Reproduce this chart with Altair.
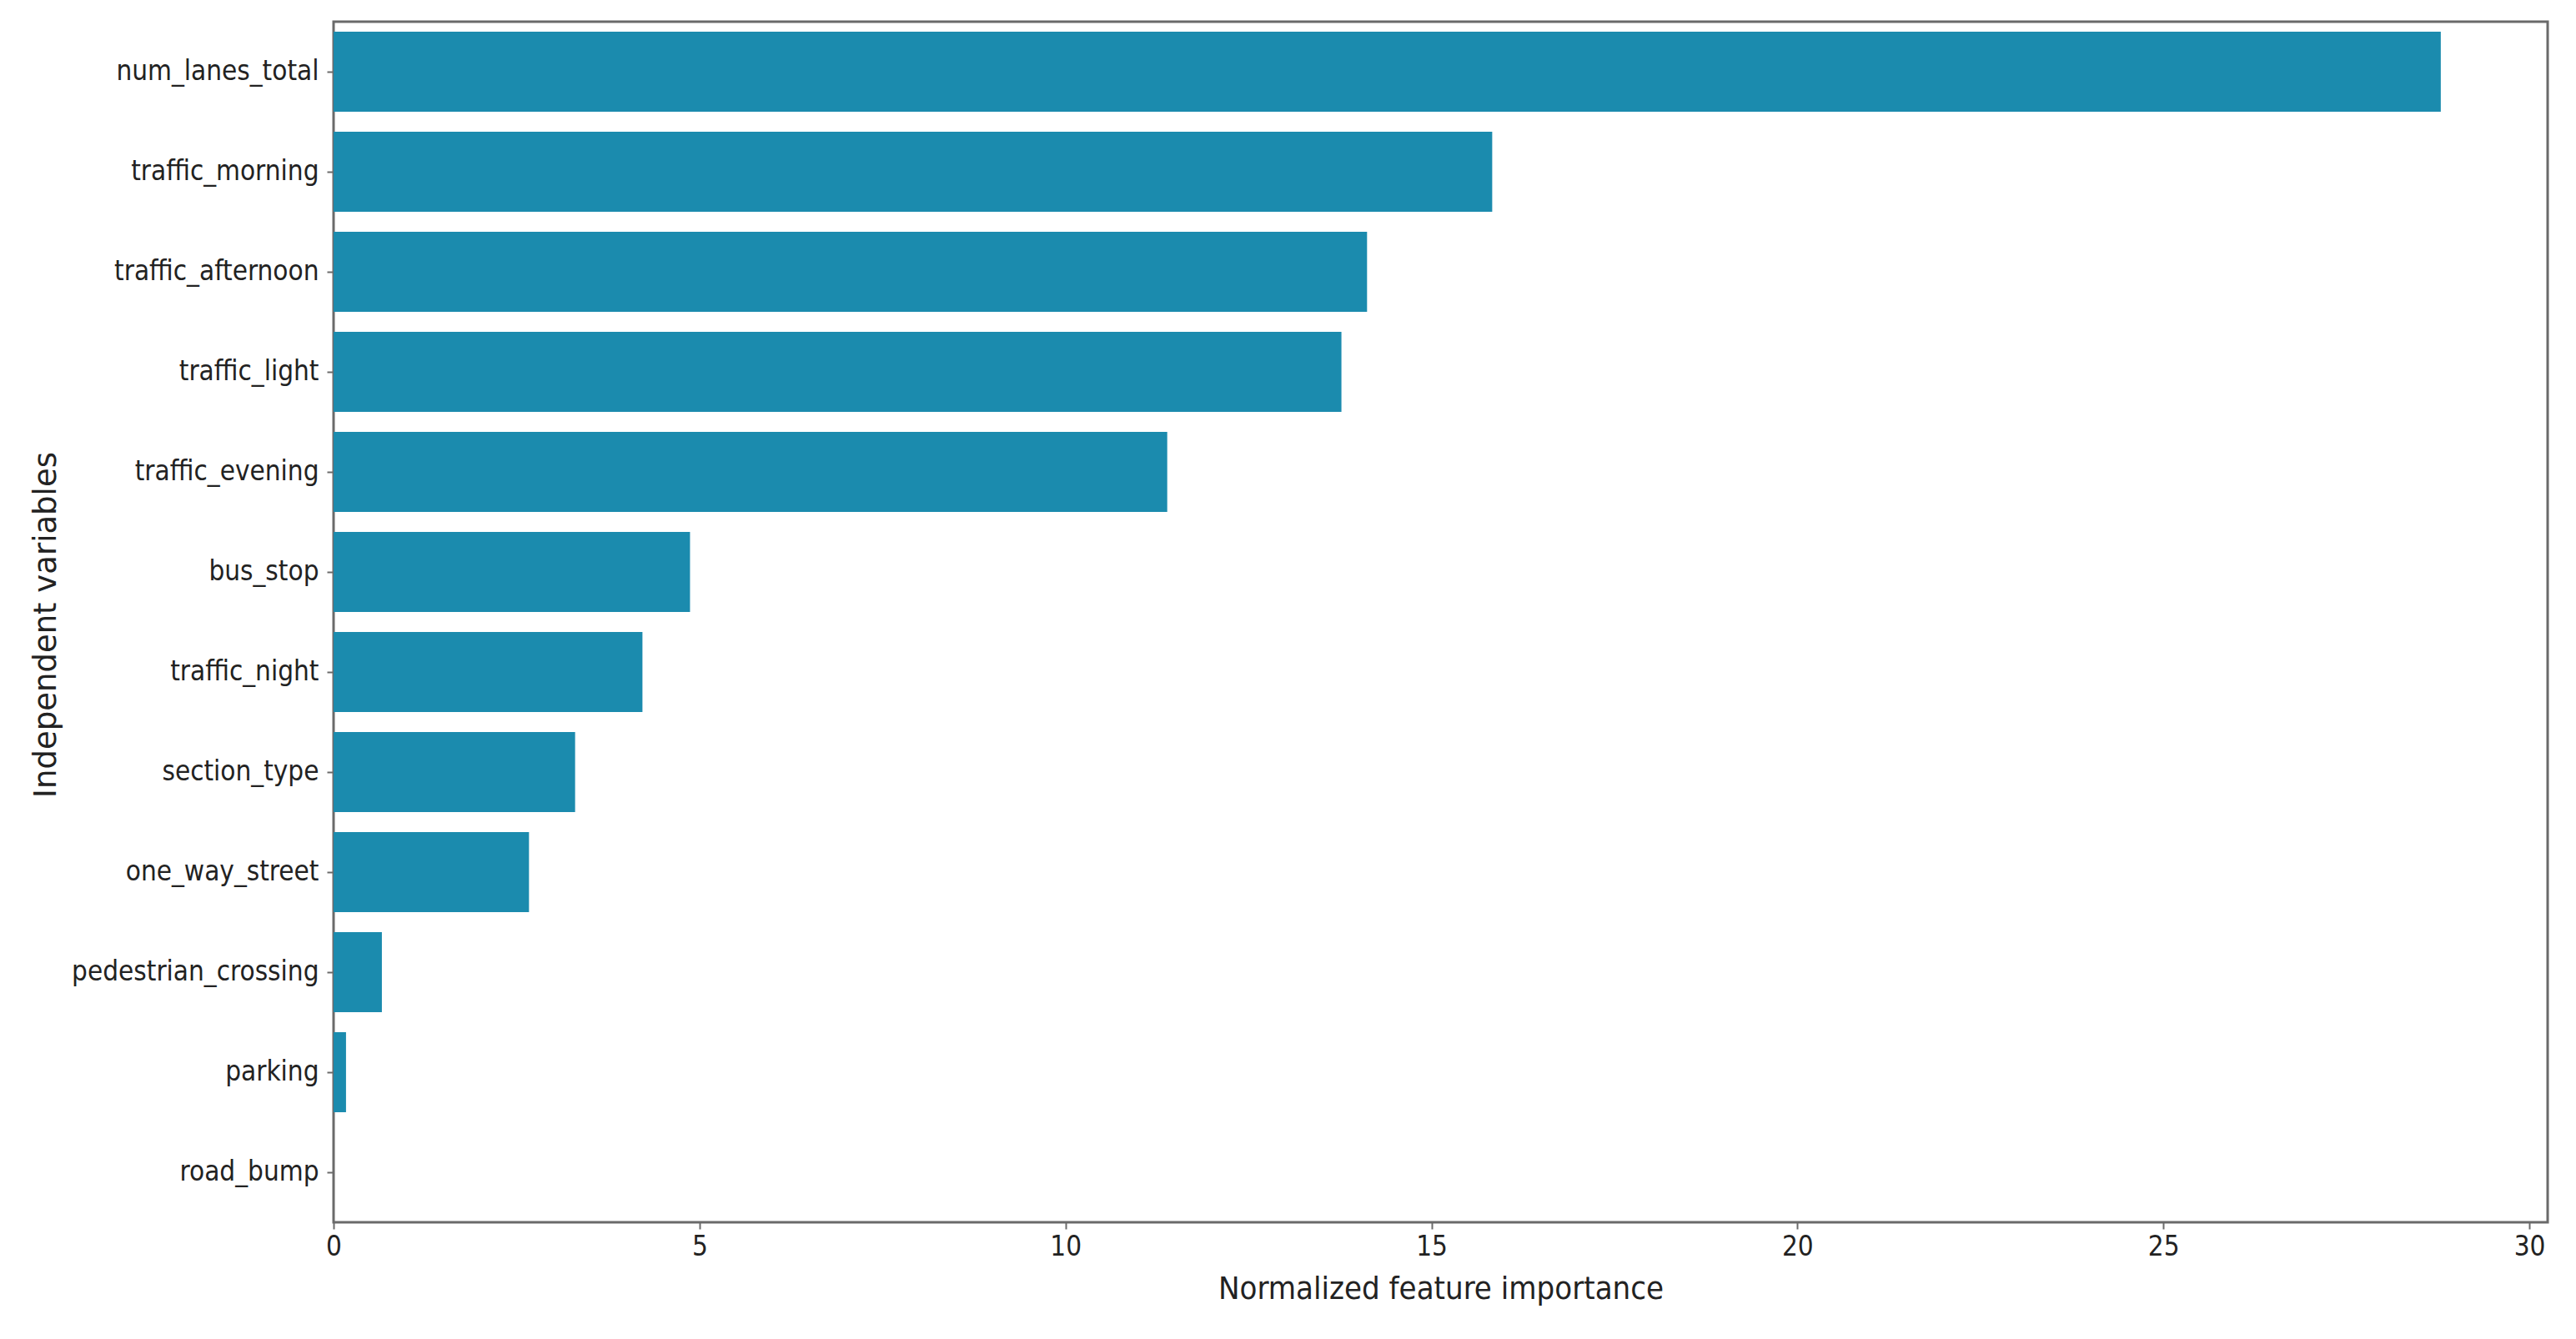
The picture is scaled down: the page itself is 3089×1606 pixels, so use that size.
import altair as alt
import pandas as pd

features = ["num_lanes_total", "traffic_morning", "traffic_afternoon", "traffic_light",
            "traffic_evening", "bus_stop", "traffic_night", "section_type",
            "one_way_street", "pedestrian_crossing", "parking", "road_bump"]
importance = [28.79, 15.83, 14.12, 13.77, 11.39, 4.87, 4.22, 3.30, 2.67, 0.66, 0.17, 0.0]
x_ticks = [0, 5, 10, 15, 20, 25, 30]

df = pd.DataFrame({"feature": features, "importance": importance})

FONT = "DejaVu Sans Condensed, Liberation Sans Narrow, Roboto Condensed, Roboto"
FONT_WIDE = "DejaVu Sans, Open Sans"
TXT = "#222222"
AX = "#6a6a6a"

bars = alt.Chart(df).mark_bar(color="#1b8bae").encode(
    x=alt.X("importance:Q",
            scale=alt.Scale(domain=[0, 30.25], nice=False, zero=True),
            axis=alt.Axis(values=x_ticks, title="Normalized feature importance",
                          grid=False, domain=False, tickColor=AX, tickSize=8, tickWidth=2,
                          labelFont=FONT, labelFontSize=33, labelColor=TXT, labelPadding=5,
                          labelFlush=False,
                          titleFont=FONT, titleFontSize=38, titleFontWeight="normal",
                          titleColor=TXT, titleY=80, titleBaseline="middle")),
    y=alt.Y("feature:N", sort=features,
            scale=alt.Scale(paddingInner=0.2, paddingOuter=0.1),
            axis=alt.Axis(title="Independent variables", grid=False, domain=False,
                          tickColor=AX, tickSize=8, tickWidth=2, labelLimit=0,
                          labelFont=FONT, labelFontSize=33, labelColor=TXT, labelPadding=10,
                          titleFont=FONT_WIDE, titleFontSize=37, titleFontWeight="normal",
                          titleColor=TXT, titleX=-345, titleY=723, titleAngle=-90,
                          titleAlign="center", titleBaseline="middle")),
).properties(width=2655, height=1440)

chart = bars.configure_view(stroke=AX, strokeWidth=3).properties(
    autosize=alt.AutoSizeParams(type="none"),
    padding={"left": 392, "top": 18, "right": 26, "bottom": 122},
    background="white",
)

chart.save("out.html", embed_options={"renderer": "svg", "actions": False})
